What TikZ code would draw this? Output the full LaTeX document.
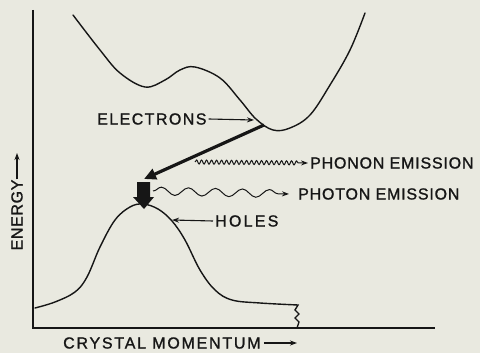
\documentclass[tikz,border=0pt]{standalone}
\usepackage{fontspec}
\setmainfont{Liberation Sans}[FakeBold=1.2]
\usetikzlibrary{arrows.meta,decorations.pathmorphing}
\definecolor{papercol}{RGB}{233,233,224}
\definecolor{inkcol}{RGB}{22,22,22}

\begin{document}
\begin{tikzpicture}[x=1pt,y=-1pt,
  lbl/.style={font=\fontsize{16}{16}\selectfont\addfontfeatures{LetterSpace=#1},
    inner sep=0pt,anchor=west,text=inkcol},
  lbl/.default=9,
  band/.style={inkcol,line width=1.4pt,line cap=round},
  tip/.style={inkcol,line width=1.1pt,-{Stealth[length=7pt,width=5pt]}}]
  \useasboundingbox (0,0) rectangle (480,353);
  \fill[papercol] (0,0) rectangle (480,353);
  % axes
  \coordinate (top) at (33,10);
  \coordinate (orig) at (33,328);
  \coordinate (right) at (435,328);
  \draw[inkcol,line width=2.8pt] (top) -- (orig) -- (right);
  % conduction band
  \draw[band] plot[smooth,tension=0.6] coordinates {(73,15) (100,50) (120,73) (145,87)
    (165,80) (180,70) (195,67) (220,78) (240,100) (256,119) (273,130) (290,128)
    (310,115) (330,85) (350,50) (365,13)};
  % valence band
  \draw[band] plot[smooth,tension=0.6] coordinates {(35,308) (55,302) (75,292) (87,277)
    (100,247) (115,220) (130,207) (143,204) (158,209) (172,221) (185,240) (200,270)
    (215,290) (232,300) (260,303) (298,305)}
    -- (295,310) -- (299,314) -- (295,318) -- (299,322) -- (297,328);
  % electrons
  \node[lbl] (elec) at (97,119) {ELECTRONS};
  \coordinate (celec) at (254,120);
  \draw[tip] (elec.east) ++(2,0) -- (celec);
  % transition
  \coordinate (cmin) at (264,125);
  \coordinate (vdrop) at (144,179);
  \draw[inkcol,line width=3.2pt,-{Triangle[length=12pt,width=11pt]}] (cmin) -- (vdrop);
  \fill[inkcol] (137,182) -- (150,182) -- (150,197) -- (154,197) -- (144,209)
    -- (133,197) -- (137,197) -- cycle;
  % phonon
  \coordinate (phA) at (195,162);
  \node[lbl=5] (phonon) at (310,163) {PHONON EMISSION};
  \draw[tip,line width=1pt,decorate,decoration={snake,amplitude=2pt,
    segment length=5pt,post length=8pt}] (phA) -- ([xshift=-2pt]phonon.west);
  % photon
  \coordinate (phoA) at (153,191);
  \node[lbl=5] (photon) at (298,194) {PHOTON EMISSION};
  \draw[tip,line width=1pt,decorate,decoration={snake,amplitude=4pt,
    segment length=27pt,post length=8pt}] (phoA) -- ([xshift=-9pt]photon.west);
  % holes
  \node[lbl=14] (holes) at (215,221) {HOLES};
  \coordinate (vhole) at (172,220);
  \draw[tip] ([xshift=-2pt]holes.west) -- (vhole);
  % axis labels
  \node[lbl=4,rotate=90,anchor=center] (energy) at (17,215) {ENERGY};
  \coordinate (eup) at (17,153);
  \draw[tip] (energy.east) -- (eup);
  \node[lbl=11] (mom) at (63,343) {CRYSTAL MOMENTUM};
  \coordinate (mright) at (297,343);
  \draw[tip] ([xshift=3pt]mom.east) -- (mright);
\end{tikzpicture}
\end{document}
